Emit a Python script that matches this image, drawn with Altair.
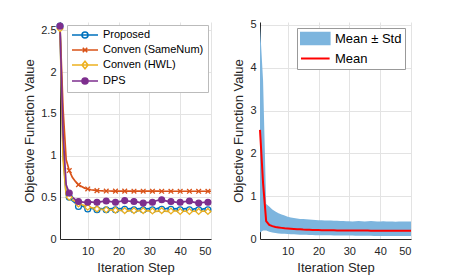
import altair as alt
import pandas as pd

iters = list(range(1, 51))

series_names = ["Proposed", "Conven (SameNum)", "Conven (HWL)", "DPS"]
series_colors = ["#0072BD", "#D95319", "#EDB120", "#7E2F8E"]
series_fill = ["white", "#D95319", "white", "#7E2F8E"]

proposed = [2.55, 1.05, 0.53, 0.50, 0.46, 0.43, 0.39, 0.40, 0.38, 0.36,
            0.37, 0.36, 0.35, 0.365, 0.36, 0.35, 0.36, 0.365, 0.35, 0.36,
            0.365, 0.355, 0.36, 0.365, 0.35, 0.36, 0.365, 0.35, 0.36, 0.365,
            0.35, 0.36, 0.37, 0.355, 0.36, 0.37, 0.355, 0.36, 0.365, 0.35,
            0.36, 0.365, 0.35, 0.355, 0.365, 0.35, 0.355, 0.365, 0.35, 0.355]
same_num = [2.55, 1.55, 0.95, 0.82, 0.74, 0.69, 0.65, 0.63, 0.61, 0.60,
            0.59, 0.585, 0.58, 0.578, 0.576, 0.575, 0.575, 0.574, 0.574, 0.574,
            0.574, 0.574, 0.573, 0.573, 0.573, 0.573, 0.573, 0.573, 0.573, 0.573,
            0.573, 0.573, 0.573, 0.572, 0.572, 0.572, 0.572, 0.572, 0.572, 0.572,
            0.572, 0.572, 0.572, 0.572, 0.572, 0.572, 0.572, 0.572, 0.572, 0.572]
hwl = [2.52, 0.95, 0.53, 0.50, 0.47, 0.45, 0.42, 0.41, 0.40, 0.38,
       0.375, 0.37, 0.36, 0.355, 0.355, 0.35, 0.35, 0.345, 0.345, 0.34,
       0.345, 0.34, 0.335, 0.34, 0.34, 0.335, 0.34, 0.34, 0.335, 0.34,
       0.335, 0.33, 0.335, 0.34, 0.335, 0.33, 0.335, 0.34, 0.335, 0.33,
       0.335, 0.335, 0.33, 0.335, 0.335, 0.33, 0.335, 0.335, 0.33, 0.33]
dps = [2.55, 1.25, 0.65, 0.55, 0.50, 0.47, 0.45, 0.445, 0.44, 0.44,
       0.445, 0.44, 0.44, 0.445, 0.45, 0.455, 0.45, 0.445, 0.44, 0.445,
       0.455, 0.46, 0.455, 0.45, 0.45, 0.445, 0.435, 0.43, 0.435, 0.44,
       0.44, 0.455, 0.465, 0.47, 0.46, 0.45, 0.45, 0.445, 0.44, 0.44,
       0.445, 0.45, 0.455, 0.445, 0.435, 0.43, 0.435, 0.44, 0.44, 0.45]

mean_vals = [2.55, 1.3, 0.42, 0.33, 0.30, 0.28, 0.27, 0.26, 0.25, 0.245,
             0.24, 0.235, 0.23, 0.225, 0.22, 0.218, 0.215, 0.212, 0.21, 0.208,
             0.206, 0.205, 0.204, 0.203, 0.202, 0.201, 0.2, 0.2, 0.199, 0.198,
             0.198, 0.197, 0.197, 0.196, 0.196, 0.196, 0.195, 0.195, 0.195, 0.195,
             0.194, 0.194, 0.194, 0.194, 0.193, 0.193, 0.193, 0.193, 0.193, 0.193]
upper_vals = [4.98, 3.7, 0.82, 0.76, 0.69, 0.64, 0.6, 0.57, 0.55, 0.52,
              0.5, 0.49, 0.48, 0.47, 0.465, 0.46, 0.455, 0.45, 0.445, 0.44,
              0.44, 0.435, 0.43, 0.43, 0.425, 0.425, 0.42, 0.42, 0.415, 0.415,
              0.41, 0.415, 0.42, 0.415, 0.41, 0.415, 0.42, 0.415, 0.41, 0.41,
              0.415, 0.41, 0.41, 0.41, 0.405, 0.41, 0.41, 0.41, 0.41, 0.41]
lower_vals = [0.15, 0.2, 0.2, 0.17, 0.15, 0.14, 0.13, 0.125, 0.12, 0.115,
              0.11, 0.11, 0.105, 0.1, 0.1, 0.1, 0.095, 0.095, 0.09, 0.09,
              0.09, 0.088, 0.086, 0.085, 0.084, 0.083, 0.082, 0.081, 0.08, 0.08,
              0.079, 0.078, 0.077, 0.076, 0.075, 0.075, 0.074, 0.073, 0.072, 0.072,
              0.071, 0.071, 0.07, 0.07, 0.07, 0.07, 0.07, 0.07, 0.07, 0.07]

x_ticks = [10, 20, 30, 40, 50]
left_y_ticks = [0, 0.5, 1, 1.5, 2, 2.5]
right_y_ticks = [0, 1, 2, 3, 4, 5]

FONT = "Liberation Sans"

# ---------- left panel ----------
rows = []
for name, vals in zip(series_names, [proposed, same_num, hwl, dps]):
    for i, v in zip(iters, vals):
        rows.append({"iter": i, "value": v, "series": name})
df_left = pd.DataFrame(rows)

marker_paths = [
    "circle",
    "M-0.8,-0.8L0.8,0.8M-0.8,0.8L0.8,-0.8",
    "diamond",
    "circle",
]
# legend glyphs: line segment with marker in its middle (symbol size 100 -> 5px per unit)
legend_paths = [
    "M-1,0H4.2M2.2,0A0.6,0.6,0,1,1,1.0,0A0.6,0.6,0,1,1,2.2,0",
    "M-1,0H4.2M1.15,-0.45L2.05,0.45M1.15,0.45L2.05,-0.45",
    "M-1,0H4.2M1.6,-0.75L2.2,0L1.6,0.75L1.0,0Z",
    "M-1,0H4.2M2.2,0A0.6,0.6,0,1,1,1.0,0A0.6,0.6,0,1,1,2.2,0",
]

xenc = alt.X("iter:Q", scale=alt.Scale(domain=[1, 50], nice=False),
             axis=alt.Axis(values=x_ticks, title="Iteration Step",
                           labelPadding=6, titlePadding=5))
yenc_left = alt.Y("value:Q", scale=alt.Scale(domain=[0, 2.6], nice=False),
                  axis=alt.Axis(values=left_y_ticks, format="~g",
                                title="Objective Function Value"))

sdom = alt.Scale(domain=series_names, range=series_colors)

lines = alt.Chart(df_left).mark_line(strokeWidth=1.7).encode(
    x=xenc, y=yenc_left,
    color=alt.Color("series:N", scale=sdom, legend=None),
)
points = alt.Chart(df_left).transform_filter(
    "(datum.iter - 1) % 3 == 0"
).mark_point(size=34, strokeWidth=1.3, opacity=1).encode(
    x=xenc, y=yenc_left,
    stroke=alt.Stroke("series:N", scale=alt.Scale(domain=series_names, range=series_colors), legend=None),
    fill=alt.Fill("series:N", scale=alt.Scale(domain=series_names, range=series_fill), legend=None),
    shape=alt.Shape("series:N", scale=alt.Scale(domain=series_names, range=marker_paths), legend=None),
)
leg_left = alt.Chart(df_left).transform_filter("false").mark_point(opacity=1).encode(
    x=xenc, y=yenc_left,
    stroke=alt.Stroke("series:N", scale=alt.Scale(domain=series_names, range=series_colors), legend=alt.Legend(title=None)),
    fill=alt.Fill("series:N", scale=alt.Scale(domain=series_names, range=series_fill), legend=alt.Legend(title=None)),
    shape=alt.Shape("series:N", scale=alt.Scale(domain=series_names, range=legend_paths),
                    legend=alt.Legend(title=None, orient="top-right", offset=3,
                                      symbolSize=100, symbolStrokeWidth=1.6,
                                      labelFontSize=11, labelFont=FONT,
                                      labelColor="#000000", rowPadding=2,
                                      padding=4, strokeColor="#BBBBBB",
                                      fillColor="white", labelOffset=20)),
)
left = alt.layer(lines, points, leg_left).resolve_scale(
    stroke="independent", fill="independent", shape="independent"
).properties(width=151, height=217)

# ---------- right panel ----------
df_right = pd.DataFrame({"iter": iters, "mean": mean_vals,
                         "upper": upper_vals, "lower": lower_vals})
right_labels = ["Mean \u00b1 Std", "Mean"]
right_fill = ["#7DB5DE", "transparent"]
right_stroke = ["#7DB5DE", "#FF0000"]
# symbol size 169 -> 6.5px per unit
right_paths = ["M-1,-0.9H3.4V0.9H-1Z", "M-1,0H3.4"]

yenc_right = alt.Y("mean:Q", scale=alt.Scale(domain=[0, 5.07], nice=False),
                   axis=alt.Axis(values=right_y_ticks, title="Objective Function Value"))

band = alt.Chart(df_right).mark_area(color="#7DB5DE", opacity=1).encode(
    x=xenc,
    y=alt.Y("lower:Q", scale=alt.Scale(domain=[0, 5.07], nice=False),
            axis=alt.Axis(values=right_y_ticks, title="Objective Function Value")),
    y2="upper:Q",
)
mline = alt.Chart(df_right).mark_line(color="#FF0000", strokeWidth=2).encode(
    x=xenc, y=yenc_right,
)
leg_df = pd.DataFrame({"label": right_labels})
leg_right = alt.Chart(leg_df).transform_filter("false").mark_point(opacity=1).encode(
    stroke=alt.Stroke("label:N", scale=alt.Scale(domain=right_labels, range=right_stroke), legend=alt.Legend(title=None)),
    fill=alt.Fill("label:N", scale=alt.Scale(domain=right_labels, range=right_fill), legend=alt.Legend(title=None)),
    shape=alt.Shape("label:N", scale=alt.Scale(domain=right_labels, range=right_paths),
                    legend=alt.Legend(title=None, orient="top-right", offset=6,
                                      symbolSize=169, symbolStrokeWidth=2,
                                      labelFontSize=13, labelFont=FONT,
                                      labelColor="#000000", rowPadding=2,
                                      padding=3, strokeColor="#999999",
                                      fillColor="white", labelOffset=20)),
)
right = alt.layer(band, mline, leg_right).resolve_scale(
    stroke="independent", fill="independent", shape="independent"
).properties(width=151, height=217)

chart = alt.hconcat(left, right, spacing=17).properties(
    padding={"left": 15, "top": 10, "right": 5, "bottom": 5}
).configure_view(stroke=None).configure_axis(
    grid=True, gridColor="#E3E3E3", gridWidth=1,
    domainColor="#262626", domainWidth=1,
    ticks=False, labelFont=FONT, labelFontSize=11, labelColor="#262626",
    titleFont=FONT, titleFontSize=13, titleColor="#262626", titleFontWeight="normal",
    labelPadding=4, titlePadding=4,
)

chart.save("out.html", embed_options={"renderer": "svg", "actions": False})
